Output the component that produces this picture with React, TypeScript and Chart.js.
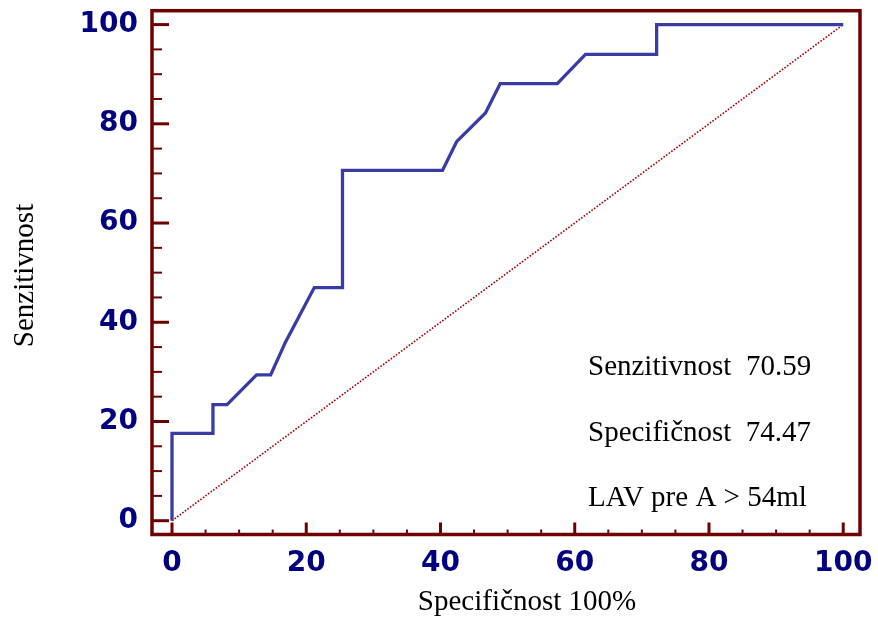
import React, { useEffect, useRef } from "react";
import { Chart, registerables } from "chart.js";

Chart.register(...registerables);

// ROC curve: 100 - specificity (x) vs sensitivity (y)
const rocX = [0, 0, 6.1, 6.1, 8.2, 12.6, 14.7, 16.9, 21.2, 25.4, 25.4, 40.3, 42.4, 46.7, 48.9, 57.4, 61.6, 72.2, 72.2, 100];
const rocY = [0, 17.6, 17.6, 23.4, 23.4, 29.4, 29.4, 36.0, 47.0, 47.0, 70.6, 70.6, 76.4, 82.2, 88.1, 88.1, 94.0, 94.0, 100, 100];
const diagX = [0, 100];
const diagY = [0, 100];
const majorTicks = [0, 20, 40, 60, 80, 100];
const minorTicks = [5, 10, 15, 25, 30, 35, 45, 50, 55, 65, 70, 75, 85, 90, 95];
const xTitle = "Specifičnost 100%";
const yTitle = "Senzitivnost";
const notes = ["Senzitivnost  70.59", "Specifičnost  74.47", "LAV pre A > 54ml"];

const FRAME = "#6e0000";
const SERIF = "'Liberation Serif', 'Times New Roman', serif";

const decorPlugin = {
  id: "decor",
  afterDatasetsDraw(chart: any) {
    const { ctx, chartArea: a, scales } = chart;
    const xs = scales.x;
    const ys = scales.y;
    ctx.save();
    ctx.strokeStyle = FRAME;
    ctx.lineCap = "butt";
    const yTick = (v: number, len: number, w: number) => {
      const py = ys.getPixelForValue(v);
      ctx.lineWidth = w;
      ctx.beginPath();
      ctx.moveTo(a.left, py);
      ctx.lineTo(a.left + len, py);
      ctx.stroke();
    };
    const xTick = (v: number, len: number, w: number) => {
      const px = xs.getPixelForValue(v);
      ctx.lineWidth = w;
      ctx.beginPath();
      ctx.moveTo(px, a.bottom);
      ctx.lineTo(px, a.bottom - len);
      ctx.stroke();
    };
    majorTicks.forEach((v) => { yTick(v, 17, 3); xTick(v, 12, 3); });
    minorTicks.forEach((v) => { yTick(v, 10, 2); xTick(v, 5, 2); });
    ctx.lineWidth = 3.5;
    ctx.strokeRect(a.left, a.top, a.right - a.left, a.bottom - a.top);

    ctx.fillStyle = "#000";
    ctx.font = `29px ${SERIF}`;
    ctx.textAlign = "left";
    ctx.textBaseline = "alphabetic";
    const baselines = [375, 441, 506];
    notes.forEach((t, i) => ctx.fillText(t, 588, baselines[i]));

    ctx.textAlign = "center";
    ctx.fillText(xTitle, 527, 610);
    ctx.save();
    ctx.translate(33, 275.5);
    ctx.rotate(-Math.PI / 2);
    ctx.fillText(yTitle, 0, 0);
    ctx.restore();
    ctx.restore();
  },
};

export default function App() {
  const ref = useRef<HTMLCanvasElement>(null);
  useEffect(() => {
    if (!ref.current) return;
    const tickFont = { family: "'DejaVu Sans', Verdana, sans-serif", size: 28, weight: "bold" };
    const chart = new Chart(ref.current, {
      type: "scatter",
      data: {
        datasets: [
          {
            data: rocX.map((x, i) => ({ x, y: rocY[i] })),
            showLine: true,
            borderColor: "#3a3ca6",
            borderWidth: 3.3,
            pointRadius: 0,
            tension: 0,
          },
          {
            data: diagX.map((x, i) => ({ x, y: diagY[i] })),
            showLine: true,
            borderColor: "#a00000",
            borderWidth: 1.6,
            borderDash: [1.6, 1.6],
            pointRadius: 0,
          },
        ],
      },
      options: {
        animation: false,
        responsive: false,
        layout: { padding: { left: 0, top: 10.7, right: 18, bottom: 0 } },
        plugins: { legend: { display: false }, tooltip: { enabled: false } },
        scales: {
          x: {
            type: "linear",
            min: -2.98,
            max: 102.5,
            grid: { display: false, drawTicks: false },
            border: { display: false },
            ticks: { color: "#000080", font: tickFont, padding: 12, maxRotation: 0 },
            afterBuildTicks: (s: any) => { s.ticks = majorTicks.map((v) => ({ value: v })); },
            afterFit: (s: any) => {
              s.height = 89.5;
              s.paddingLeft = 0; s.paddingRight = 0; s.paddingTop = 0; s.paddingBottom = 0;
            },
          },
          y: {
            type: "linear",
            min: -2.78,
            max: 102.8,
            grid: { display: false, drawTicks: false },
            border: { display: false },
            ticks: { color: "#000080", font: tickFont, padding: 14 },
            afterBuildTicks: (s: any) => { s.ticks = majorTicks.map((v) => ({ value: v })); },
            afterFit: (s: any) => {
              s.width = 152;
              s.paddingLeft = 0; s.paddingRight = 0; s.paddingTop = 0; s.paddingBottom = 0;
            },
          },
        },
      },
      plugins: [decorPlugin],
    } as any);
    return () => chart.destroy();
  }, []);
  return (
    <div style={{ position: "fixed", left: 0, top: 0, width: 878, height: 624, background: "#fff" }}>
      <canvas ref={ref} width={878} height={624} style={{ display: "block" }} />
    </div>
  );
}
